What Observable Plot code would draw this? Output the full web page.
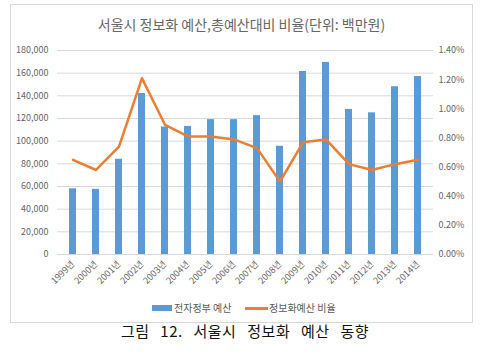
<!DOCTYPE html>
<html><head><meta charset="utf-8">
<script src="https://cdn.jsdelivr.net/npm/d3@7"></script>
<script src="https://cdn.jsdelivr.net/npm/@observablehq/plot@0.6"></script>
<style>
body{margin:0;background:#fff;}
#wrap{position:relative;width:502px;height:357px;font-family:"Noto Sans CJK KR","Noto Sans",sans-serif;overflow:hidden;}
#frame{position:absolute;left:10px;top:4px;width:463px;height:319px;border:1.5px solid #d9d9d9;box-sizing:border-box;}
#title{position:absolute;left:10px;width:463px;top:14px;text-align:center;font-size:14px;color:#666;line-height:20px;}
#chart{position:absolute;left:0;top:0;}
#legend{position:absolute;left:0;top:300px;width:502px;height:16px;font-size:10px;color:#595959;}
.sw{position:absolute;}
.lt{position:absolute;top:0;line-height:16px;}
#caption{position:absolute;left:0;width:490px;top:321px;text-align:center;font-size:15px;color:#111;line-height:20px;word-spacing:7px;letter-spacing:0.5px;}
</style></head>
<body>
<div id="wrap">
  <div id="frame"></div>
  <div id="title">서울시 정보화 예산,총예산대비 비율(단위: 백만원)</div>
  <div id="chart"></div>
  <div id="legend">
    <div class="sw" style="left:152px;top:5px;width:20px;height:6px;background:#5B9BD5"></div>
    <div class="lt" style="left:174px">전자정부 예산</div>
    <div class="sw" style="left:245px;top:7px;width:23px;height:2.5px;background:#ED7D31"></div>
    <div class="lt" style="left:269px">정보화예산 비율</div>
  </div>
  <div id="caption">그림 12. 서울시 정보화 예산 동향</div>
</div>
<script>
const years = ["1999년","2000년","2001년","2002년","2003년","2004년","2005년","2006년","2007년","2008년","2009년","2010년","2011년","2012년","2013년","2014년"];
const budget = [58000, 57500, 84000, 142000, 112500, 113000, 119000, 119000, 122500, 95500, 161500, 169500, 128000, 125000, 148000, 157000];
const ratio = [0.65, 0.58, 0.74, 1.21, 0.89, 0.81, 0.81, 0.79, 0.73, 0.50, 0.77, 0.79, 0.62, 0.58, 0.62, 0.65];
const leftTicks = [0,20000,40000,60000,80000,100000,120000,140000,160000,180000];
const rightTicks = [0,0.2,0.4,0.6,0.8,1.0,1.2,1.4];
const leftMax = 180000, rightMax = 1.4;
const toLeft = v => v * leftMax / rightMax;

const data = years.map((y,i)=>({year:y, budget:budget[i], ratio:ratio[i]}));

const chart = Plot.plot({
  width: 502, height: 300,
  marginTop: 50, marginBottom: 46, marginLeft: 57, marginRight: 69,
  style: {background:"transparent", fontFamily:'"Noto Sans CJK KR","Noto Sans",sans-serif', fontSize:"9px", color:"#666"},
  x: {domain: years, paddingInner: 0.7, paddingOuter: 0.35, label: null},
  y: {domain: [0, leftMax], label: null},
  marks: [
    Plot.ruleY(leftTicks, {stroke:"#d9d9d9", strokeWidth:1}),
    Plot.barY(data, {x:"year", y:"budget", fill:"#5B9BD5"}),
    Plot.lineY(data, {x:"year", y: d => toLeft(d.ratio), stroke:"#ED7D31", strokeWidth:2.5, strokeLinejoin:"round"}),
    Plot.axisY({ticks: leftTicks, tickSize:0, tickPadding:9, tickFormat: d3.format(","), label:null}),
    Plot.axisY({anchor:"right", ticks: rightTicks.map(toLeft), tickSize:0, tickPadding:5, textAnchor:"start", tickFormat: d => (d*rightMax/leftMax).toFixed(2)+"%", label:null}),
    Plot.axisX({tickSize:0, tickPadding:8, tickRotate:-45, label:null})
  ]
});
document.getElementById("chart").appendChild(chart);
</script>
</body></html>
